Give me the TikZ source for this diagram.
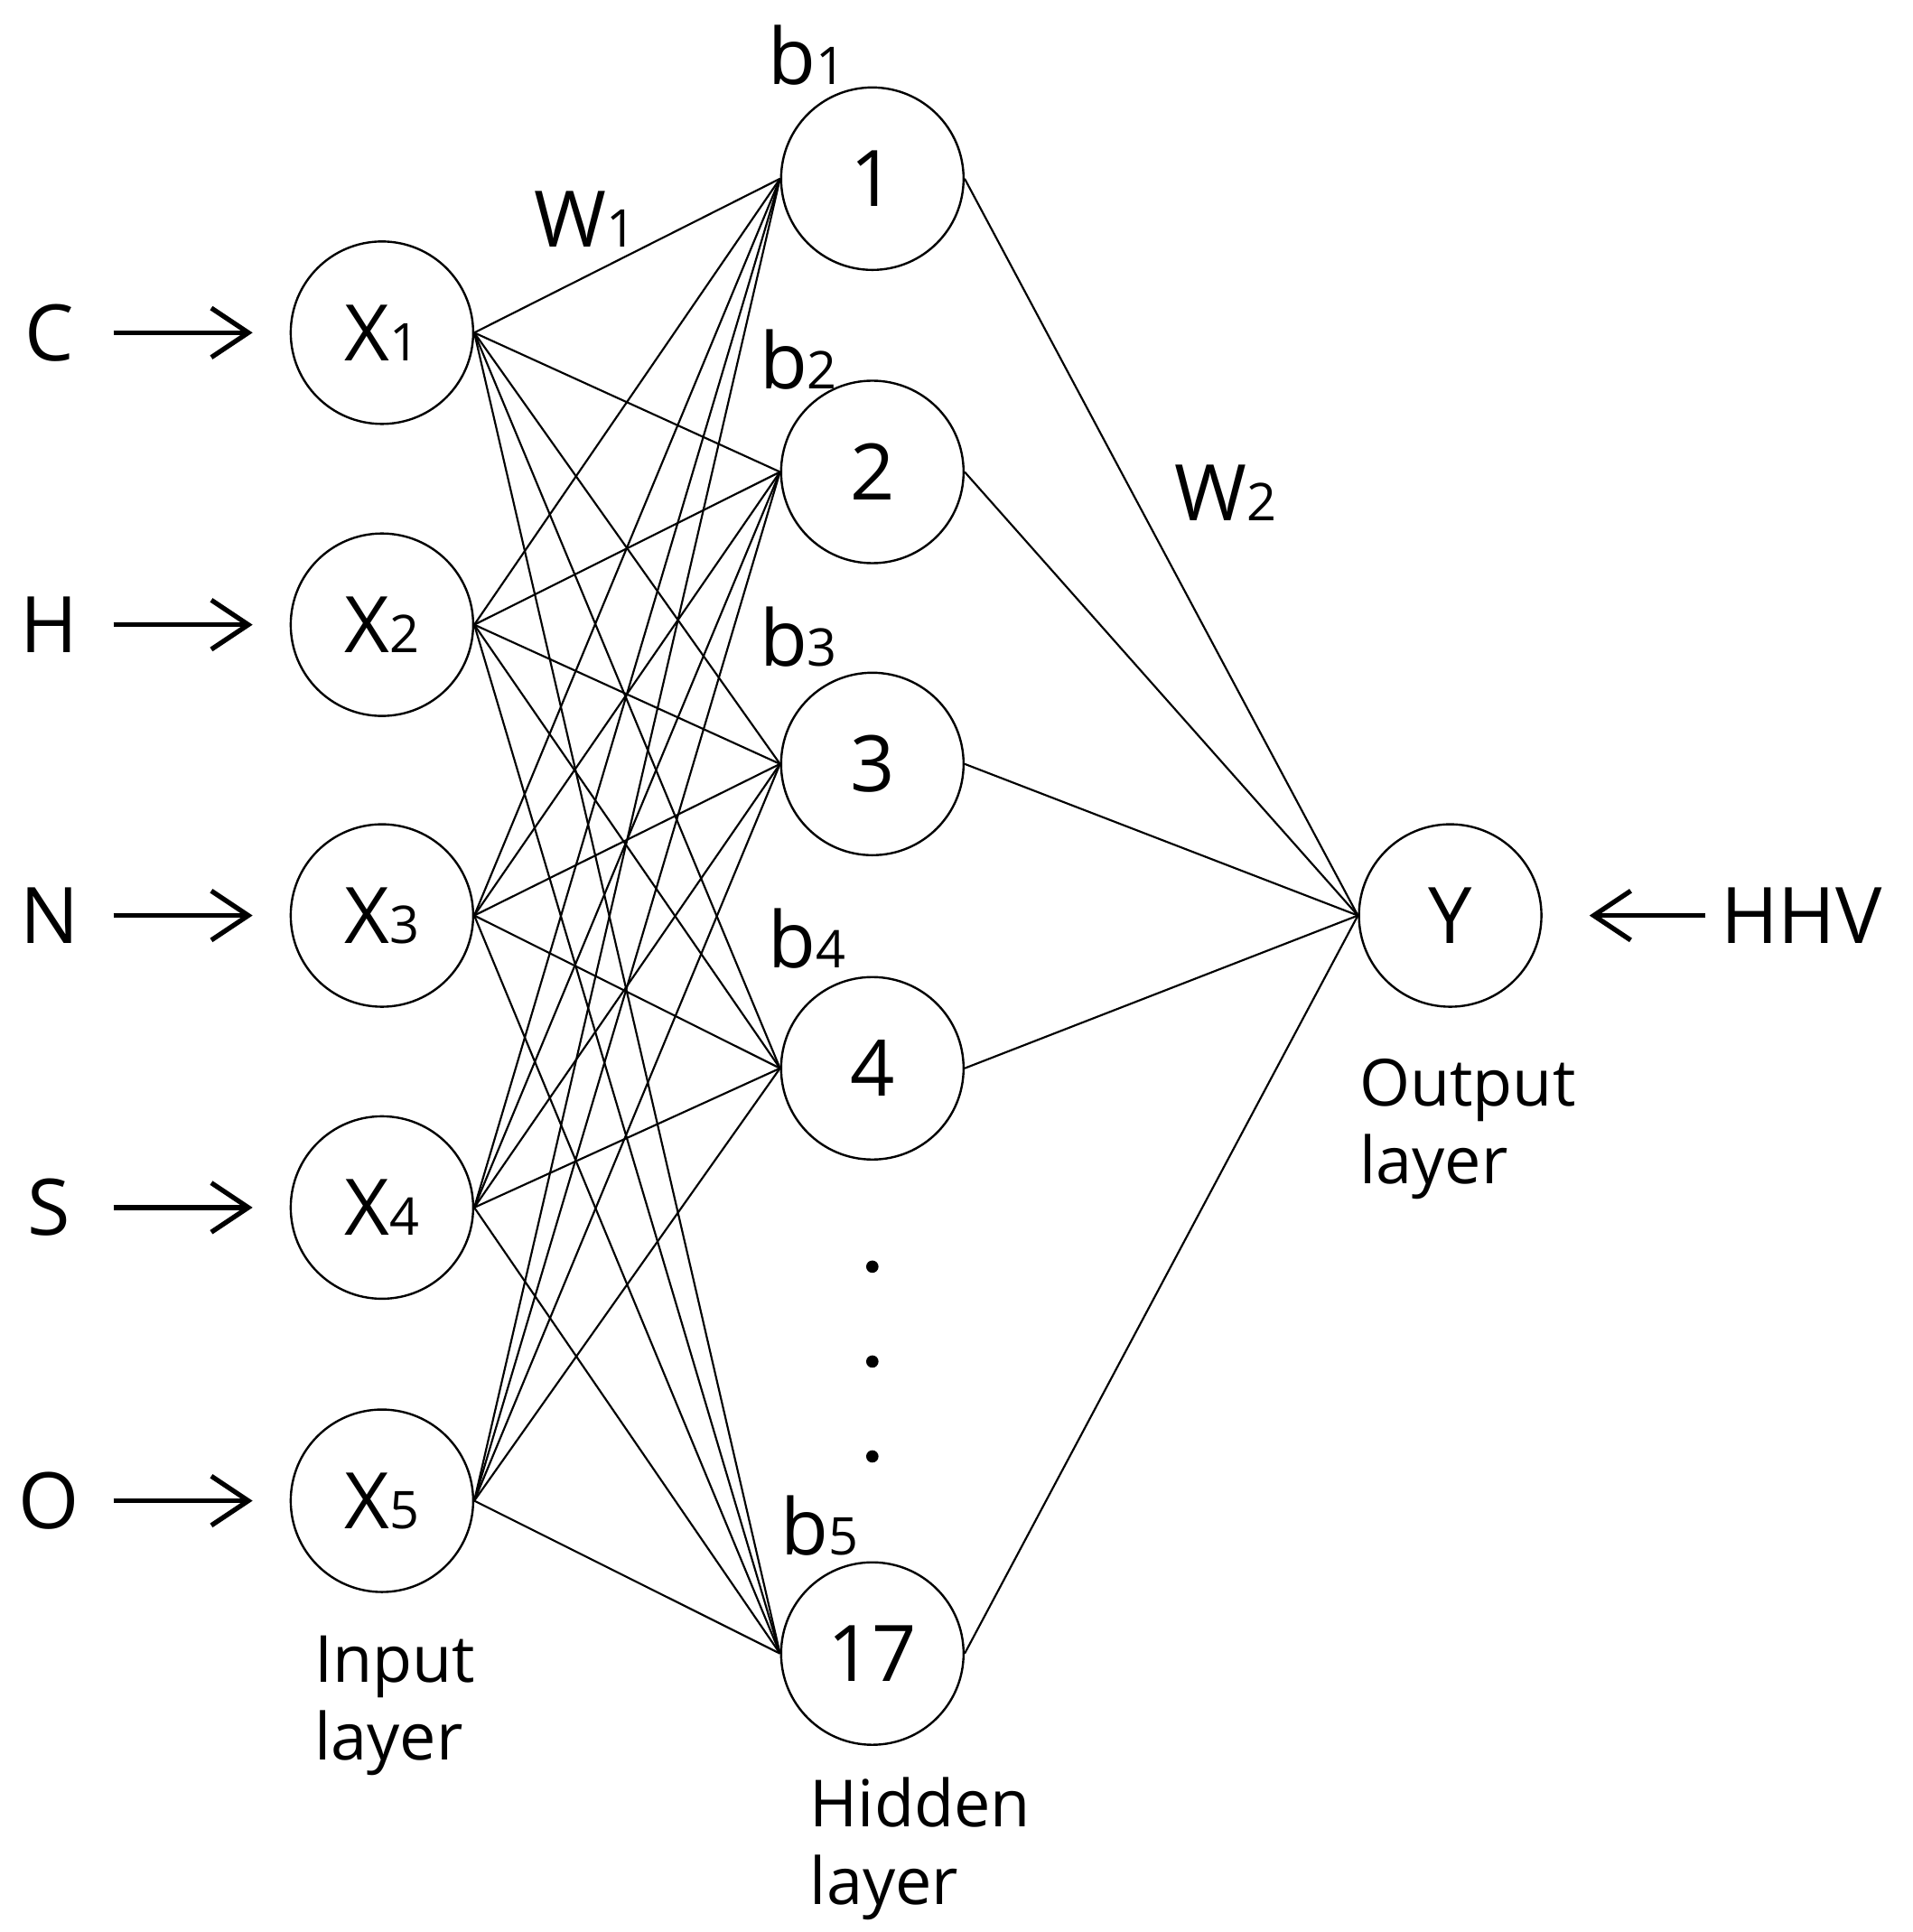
\documentclass[tikz,border=0pt]{standalone}
\usepackage{fontspec}
\setmainfont{Open Sans}
\usetikzlibrary{arrows.meta}
\begin{document}
\begin{tikzpicture}[x=0.01cm,y=-0.01cm,
 neuron/.style={circle,draw,line width=0.5pt,minimum size=1.48cm,inner sep=0pt,font=\fontsize{18}{20}\selectfont},
 lab/.style={font=\fontsize{18}{20}\selectfont},
 small/.style={font=\fontsize{15}{18}\selectfont,align=left},
 conn/.style={line width=0.45pt},
 inarr/.style={line width=1.1pt,-{Straight Barb[length=3mm,width=4mm]}}]
\useasboundingbox (0,0) rectangle (1552,1568);
\newcommand{\sub}[1]{{\fontsize{12}{13}\selectfont #1}}
\foreach \i/\y/\l in {1/270/C,2/507/H,3/743/N,4/980/S,5/1218/O}{
  \node[neuron] (x\i) at (310,\y) {X\sub{\i}};
  \node[lab] (l\i) at (40,\y) {\l};
  \coordinate (s\i) at (92,\y);
  \coordinate (e\i) at (205,\y);
  \draw[inarr] (s\i) -- (e\i);
}
\foreach \j/\y/\t in {1/145/1,2/383/2,3/620/3,4/867/4,5/1342/17}{
  \node[neuron] (h\j) at (708,\y) {\t};
}
\node[neuron] (y) at (1177,743) {Y};
\foreach \i in {1,...,5}{\foreach \j in {1,...,5}{\draw[conn] (x\i.east) -- (h\j.west);}}
\foreach \j in {1,...,5}{\draw[conn] (h\j.east) -- (y.west);}
\node[lab,anchor=east] (hhv) at (1540,743) {HHV};
\coordinate (ht) at (1290,743);
\draw[inarr] (hhv.west) -- (ht);
\foreach \k/\y in {1/1028,2/1105,3/1182}{\fill (708,\y) circle (5);}
\node[lab] (b1) at (655,45) {b\sub{1}};
\node[lab] (b2) at (648,292) {b\sub{2}};
\node[lab] (b3) at (648,517) {b\sub{3}};
\node[lab] (b4) at (655,762) {b\sub{4}};
\node[lab] (b5) at (665,1238) {b\sub{5}};
\node[lab] (w1) at (475,178) {W\sub{1}};
\node[lab] (w2) at (995,400) {W\sub{2}};
\node[small,anchor=north west] (il) at (243,1315) {Input\\layer};
\node[small,anchor=north west] (hl) at (645,1430) {Hidden\\layer};
\node[small,anchor=north west] (ol) at (1091,847) {Output\\layer};
\end{tikzpicture}
\end{document}
